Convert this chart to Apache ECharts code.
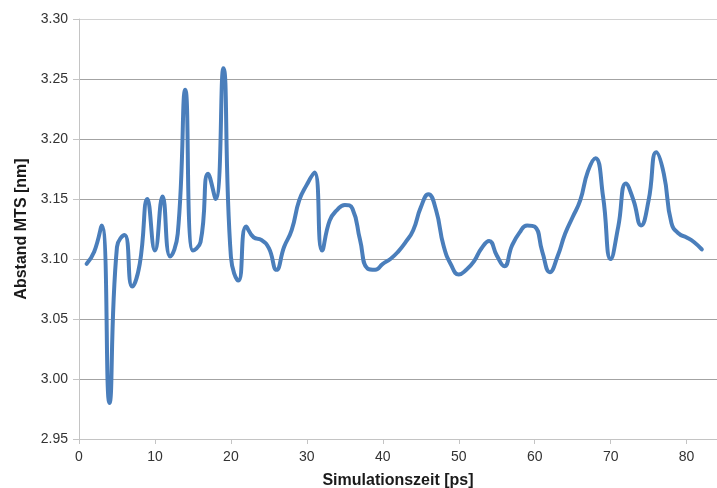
<!DOCTYPE html>
<html>
<head>
<meta charset="utf-8">
<script src="https://cdn.jsdelivr.net/npm/echarts@6/dist/echarts.min.js"></script>
<style>
html,body{margin:0;padding:0;background:#fff;}
#chart{width:717px;height:488px;}
</style>
</head>
<body>
<div id="chart"></div>
<script>
// Simulation time [ps]
const times = [1,2,3,4,5,6,7,8,9,10,11,12,13,14,15,16,17,18,19,20,21,22,23,24,25,26,27,28,29,30,31,32,33,34,35,36,37,38,39,40,41,42,43,44,45,46,47,48,49,50,51,52,53,54,55,56,57,58,59,60,61,62,63,64,65,66,67,68,69,70,71,72,73,74,75,76,77,78,79,80,81,82];
// Distance MTS [nm]
const distances = [3.096,3.106,3.128,2.980,3.110,3.120,3.077,3.096,3.150,3.107,3.152,3.102,3.121,3.241,3.107,3.114,3.171,3.150,3.259,3.102,3.082,3.127,3.118,3.116,3.109,3.091,3.110,3.124,3.149,3.162,3.172,3.107,3.132,3.141,3.145,3.142,3.116,3.092,3.091,3.096,3.100,3.106,3.114,3.124,3.143,3.154,3.141,3.111,3.095,3.087,3.091,3.098,3.109,3.115,3.103,3.094,3.111,3.122,3.128,3.127,3.106,3.089,3.102,3.121,3.135,3.149,3.173,3.184,3.152,3.100,3.127,3.163,3.149,3.128,3.149,3.189,3.171,3.130,3.121,3.118,3.114,3.108];
const xTicks = [0,10,20,30,40,50,60,70,80];
const yTicks = ['2.95','3.00','3.05','3.10','3.15','3.20','3.25','3.30'];

const chart = echarts.init(document.getElementById('chart'), null, {renderer:'canvas'});
const font = 'Liberation Sans, Arial, sans-serif';
chart.setOption({
  animation: false,
  backgroundColor: '#ffffff',
  grid: {left: 79, right: 0, top: 19, bottom: 49, containLabel: false, outerBoundsMode: 'none'},
  xAxis: {
    type: 'value',
    min: 0, max: 84, interval: 10,
    name: 'Simulationszeit [ps]',
    nameLocation: 'middle',
    nameGap: 34,
    nameTextStyle: {fontFamily: font, fontSize: 16, fontWeight: 'bold', color: '#1a1a1a'},
    axisLine: {show: true, lineStyle: {color: '#c4c4c4', width: 1}},
    axisTick: {show: true, inside: false, length: 5, lineStyle: {color: '#c4c4c4'}},
    axisLabel: {fontFamily: font, fontSize: 14, color: '#333', margin: 11, showMaxLabel: false,
      formatter: v => (xTicks.indexOf(v) >= 0 ? String(v) : '')},
    splitLine: {show: false}
  },
  yAxis: {
    type: 'value',
    min: 2.95, max: 3.30, interval: 0.05,
    name: 'Abstand MTS [nm]',
    nameLocation: 'middle',
    nameGap: 42,
    nameRotate: 90,
    nameTextStyle: {fontFamily: font, fontSize: 16, fontWeight: 'bold', color: '#1a1a1a'},
    axisLine: {show: true, lineStyle: {color: '#c4c4c4', width: 1}},
    axisTick: {show: true, inside: false, length: 6, lineStyle: {color: '#c4c4c4'}},
    axisLabel: {fontFamily: font, fontSize: 14, color: '#333', margin: 11,
      formatter: v => { const s = v.toFixed(2); return yTicks.indexOf(s) >= 0 ? s : ''; }},
    splitLine: {show: true, lineStyle: {color: ['#c4c4c4','#a3a3a3','#a3a3a3','#a3a3a3','#a3a3a3','#a3a3a3','#a3a3a3','#d2d2d2'], width: 1}}
  },
  series: [{
    type: 'line',
    data: times.map((t, i) => [t, distances[i]]),
    smooth: 0.5,
    showSymbol: false,
    symbol: 'none',
    lineStyle: {color: '#4a7ebb', width: 4, cap: 'round', join: 'round'},
    z: 5
  }]
});
</script>
</body>
</html>
